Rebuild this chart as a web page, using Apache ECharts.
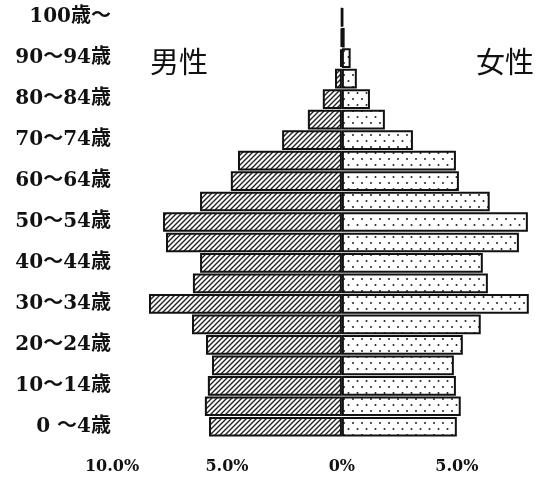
<!DOCTYPE html>
<html>
<head>
<meta charset="utf-8">
<script src="https://cdn.jsdelivr.net/npm/echarts@6/dist/echarts.min.js"></script>
<style>
  html, body { margin: 0; padding: 0; background: #fff; }
  #chart { width: 537px; height: 481px; }
</style>
</head>
<body>
<div id="chart"></div>
<script>
// 年齢階級（下から上）
const ageGroups = [
  '0 〜4歳', '5〜9歳', '10〜14歳', '15〜19歳', '20〜24歳', '25〜29歳', '30〜34歳',
  '35〜39歳', '40〜44歳', '45〜49歳', '50〜54歳', '55〜59歳', '60〜64歳', '65〜69歳',
  '70〜74歳', '75〜79歳', '80〜84歳', '85〜89歳', '90〜94歳', '95〜99歳', '100歳〜'
];
// 男性（%）
const maleData = [
  5.78, 5.96, 5.83, 5.65, 5.91, 6.52, 8.39,
  6.48, 6.17, 7.65, 7.78, 6.17, 4.83, 4.52,
  2.60, 1.48, 0.83, 0.30, 0.08, 0.04, 0.02
];
// 女性（%）
const femaleData = [
  5.00, 5.17, 4.96, 4.87, 5.26, 6.04, 8.13,
  6.35, 6.13, 7.70, 8.09, 6.43, 5.09, 4.96,
  3.09, 1.87, 1.22, 0.65, 0.38, 0.12, 0.05
];
// x軸の目盛
const xTicks = [-10, -5, 0, 5];

// 斜線パターン
function hatchPattern() {
  const c = document.createElement('canvas');
  c.width = 5; c.height = 5;
  const ctx = c.getContext('2d');
  ctx.fillStyle = '#fff';
  ctx.fillRect(0, 0, 5, 5);
  ctx.strokeStyle = '#222';
  ctx.lineWidth = 1.4;
  ctx.beginPath();
  ctx.moveTo(0, 5); ctx.lineTo(5, 0);
  ctx.moveTo(-1, 1); ctx.lineTo(1, -1);
  ctx.moveTo(4, 6); ctx.lineTo(6, 4);
  ctx.stroke();
  return c;
}
// 点描パターン
function dotPattern() {
  const c = document.createElement('canvas');
  c.width = 9; c.height = 12;
  const ctx = c.getContext('2d');
  ctx.fillStyle = '#fff';
  ctx.fillRect(0, 0, 9, 12);
  ctx.fillStyle = '#222';
  ctx.beginPath();
  ctx.arc(2, 3, 1.0, 0, Math.PI * 2);
  ctx.arc(6.5, 9, 1.0, 0, Math.PI * 2);
  ctx.fill();
  return c;
}

const myChart = echarts.init(document.getElementById('chart'));
const labelFont = 'DejaVu Serif, Noto Sans CJK JP';
const option = {
  backgroundColor: '#ffffff',
  animation: false,
  grid: {
    left: 112,
    right: 2,
    top: 7,
    bottom: 44
  },
  xAxis: {
    type: 'value',
    min: -10,
    max: 8.4,
    interval: 5,
    axisLine: { show: false },
    axisTick: { show: false },
    splitLine: { show: false },
    axisLabel: {
      margin: 22,
      color: '#111',
      fontFamily: labelFont,
      fontWeight: 'bold',
      fontSize: 16,
      showMaxLabel: false,
      formatter: (v) => {
        if (xTicks.indexOf(v) < 0) return '';
        return v === 0 ? '0%' : Math.abs(v).toFixed(1) + '%';
      }
    }
  },
  yAxis: {
    type: 'category',
    data: ageGroups,
    axisLine: { show: false },
    axisTick: { show: false },
    splitLine: { show: false },
    axisLabel: {
      interval: 1,
      margin: 1,
      color: '#111',
      fontFamily: labelFont,
      fontWeight: 'bold',
      fontSize: 20
    }
  },
  graphic: [
    {
      type: 'text', left: 150, top: 47,
      style: { text: '男性', fontSize: 29, fontFamily: 'Noto Sans CJK JP', fill: '#111' }
    },
    {
      type: 'text', left: 476, top: 47,
      style: { text: '女性', fontSize: 29, fontFamily: 'Noto Sans CJK JP', fill: '#111' }
    }
  ],
  series: [
    {
      name: '男性',
      type: 'bar',
      barGap: '-100%',
      barCategoryGap: '4%',
      data: maleData.map(v => -v),
      itemStyle: {
        color: { image: hatchPattern(), repeat: 'repeat' },
        borderColor: '#111',
        borderWidth: 2
      }
    },
    {
      name: '女性',
      type: 'bar',
      barGap: '-100%',
      barCategoryGap: '4%',
      data: femaleData,
      itemStyle: {
        color: { image: dotPattern(), repeat: 'repeat' },
        borderColor: '#111',
        borderWidth: 2
      }
    }
  ]
};
myChart.setOption(option);
</script>
</body>
</html>
